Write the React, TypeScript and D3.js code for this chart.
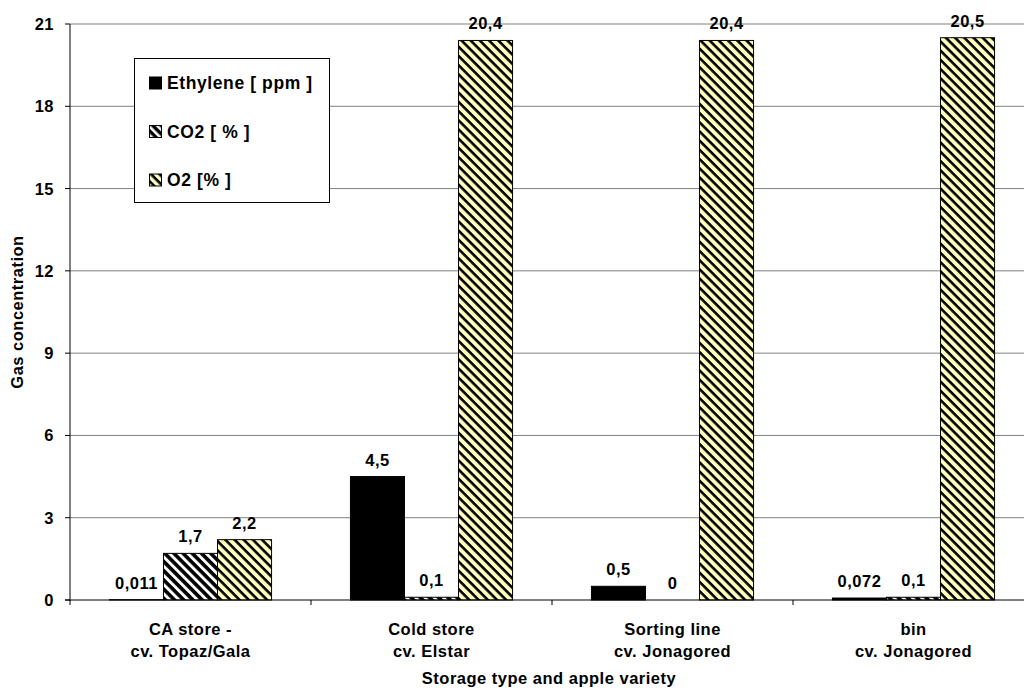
import React from "react";
import * as d3 from "d3";

const categories = [
  ["CA store -", "cv. Topaz/Gala"],
  ["Cold store", "cv. Elstar"],
  ["Sorting line", "cv. Jonagored"],
  ["bin", "cv. Jonagored"],
];
const seriesNames = ["Ethylene [ ppm ]", "CO2 [ % ]", "O2 [% ]"];
const ethylene = [0.011, 4.5, 0.5, 0.072];
const co2 = [1.7, 0.1, 0, 0.1];
const o2 = [2.2, 20.4, 20.4, 20.5];
const valueLabels = [
  ["0,011", "4,5", "0,5", "0,072"],
  ["1,7", "0,1", "0", "0,1"],
  ["2,2", "20,4", "20,4", "20,5"],
];
const yTicks = [0, 3, 6, 9, 12, 15, 18, 21];

const W = 1024;
const H = 692;
const left = 70;
const right = 1034;
const top = 24;
const bottom = 600;
const font = "'Liberation Sans', Arial, sans-serif";
const FS = 16.5;
const LS = 0.5;

export default function App() {
  const series = [ethylene, co2, o2];
  const x = d3.scaleBand<number>().domain(d3.range(categories.length)).range([left, right]).paddingInner(0).paddingOuter(0);
  const inner = d3.scaleBand<number>().domain([0, 1, 2]).range([0, x.bandwidth()]).paddingOuter(0.73).paddingInner(0);
  const y = d3.scaleLinear().domain([0, 21]).range([bottom, top]);
  const fills = ["#000000", "url(#patCO2)", "url(#patO2)"];
  const txt = { fontSize: FS, fontWeight: "bold" as const, letterSpacing: LS };

  return (
    <svg width={W} height={H} style={{ position: "absolute", left: 0, top: 0, fontFamily: font }}>
      <defs>
        <pattern id="patCO2" patternUnits="userSpaceOnUse" width="6.5" height="6.5" patternTransform="rotate(45)">
          <rect width="6.5" height="6.5" fill="#ffffff" />
          <rect x="0" y="0" width="6.5" height="3.6" fill="#000000" />
        </pattern>
        <pattern id="patO2" patternUnits="userSpaceOnUse" width="6.5" height="6.5" patternTransform="rotate(45)">
          <rect width="6.5" height="6.5" fill="#FFFFC0" />
          <rect x="0" y="0" width="6.5" height="2.6" fill="#000000" />
        </pattern>
        <pattern id="patCO2s" patternUnits="userSpaceOnUse" width="6" height="6" patternTransform="translate(149,77) rotate(45)">
          <rect width="6" height="6" fill="#ffffff" />
          <rect x="0" y="0" width="6" height="3.4" fill="#000000" />
        </pattern>
        <pattern id="patO2s" patternUnits="userSpaceOnUse" width="6" height="6" patternTransform="translate(149,77) rotate(45)">
          <rect width="6" height="6" fill="#FFFFC0" />
          <rect x="0" y="0" width="6" height="2.6" fill="#000000" />
        </pattern>
      </defs>
      <rect width={W} height={H} fill="#fff" />
      {yTicks.filter((t) => t > 0).map((t) => (
        <line key={t} x1={left} x2={W} y1={y(t)} y2={y(t)} stroke="#808080" strokeWidth={1} />
      ))}
      {series.map((vals, si) =>
        vals.map((v, ci) => {
          const bx = (x(ci) as number) + (inner(si) as number);
          const bw = inner.bandwidth();
          const by = y(v);
          const h = bottom - by;
          return h > 0 ? (
            <rect key={`${si}-${ci}`} x={bx} y={by} width={bw} height={h} fill={fills[si]} stroke="#000" strokeWidth={1} />
          ) : null;
        })
      )}
      {series.map((vals, si) =>
        vals.map((v, ci) => {
          const cx = (x(ci) as number) + (inner(si) as number) + inner.bandwidth() / 2;
          return (
            <text key={`l${si}-${ci}`} x={cx} y={y(v) - 11} textAnchor="middle" {...txt} fill="#000">
              {valueLabels[si][ci]}
            </text>
          );
        })
      )}
      <line x1={left} x2={left} y1={top} y2={bottom + 1} stroke="#000" strokeWidth={1} />
      <line x1={left - 5} x2={W} y1={bottom} y2={bottom} stroke="#000" strokeWidth={1} />
      {yTicks.map((t) => (
        <g key={`yt${t}`}>
          <line x1={left - 5} x2={left} y1={y(t)} y2={y(t)} stroke="#000" />
          <text x={54} y={y(t) + 6} textAnchor="end" {...txt}>
            {String(t)}
          </text>
        </g>
      ))}
      {d3.range(categories.length + 1).map((i) => {
        const xx = left + i * x.bandwidth();
        return <line key={`xt${i}`} x1={xx} x2={xx} y1={bottom} y2={bottom + 5} stroke="#000" />;
      })}
      {categories.map((c, i) => {
        const cx = (x(i) as number) + x.bandwidth() / 2;
        return (
          <text key={`c${i}`} x={cx} textAnchor="middle" {...txt}>
            <tspan x={cx} y={635}>{c[0]}</tspan>
            <tspan x={cx} y={657}>{c[1]}</tspan>
          </text>
        );
      })}
      <text x={549} y={684} textAnchor="middle" {...txt}>
        Storage type and apple variety
      </text>
      <text transform={`translate(23,${(top + bottom) / 2}) rotate(-90)`} textAnchor="middle" {...txt}>
        Gas concentration
      </text>
      <rect x={134.5} y={58.5} width={195} height={144} fill="#fff" stroke="#000" strokeWidth={1} />
      {seriesNames.map((n, i) => {
        const yy = 89 + i * 48.5;
        const sw = ["#000", "url(#patCO2s)", "url(#patO2s)"][i];
        return (
          <g key={n}>
            <rect x={149.5} y={yy - 12} width={12} height={12} fill={sw} stroke="#000" strokeWidth={1} />
            <text x={167} y={yy} fontSize={17.5} fontWeight="bold" letterSpacing={0.6}>
              {n}
            </text>
          </g>
        );
      })}
    </svg>
  );
}
